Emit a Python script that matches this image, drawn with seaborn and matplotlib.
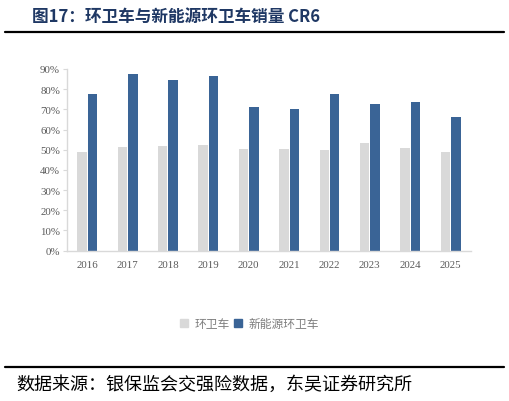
import pandas as pd
import numpy as np
import matplotlib.pyplot as plt
import seaborn as sns
from matplotlib.patches import Rectangle
from matplotlib.lines import Line2D

sns.set_style("white")
plt.rcParams['font.family'] = ['Noto Sans CJK SC', 'DejaVu Sans']

years = ["2016", "2017", "2018", "2019", "2020", "2021", "2022", "2023", "2024", "2025"]
cr6_all = [48.7, 51.2, 51.9, 52.2, 50.5, 50.5, 50.0, 53.3, 51.0, 48.9]
cr6_nev = [77.5, 87.7, 84.5, 86.4, 71.2, 70.0, 77.5, 72.7, 73.5, 66.1]
series = ["环卫车", "新能源环卫车"]
colors = ["#d9d9d9", "#3a6496"]

df = pd.DataFrame({
    "year": years * 2,
    "value": cr6_all + cr6_nev,
    "kind": [series[0]] * len(years) + [series[1]] * len(years),
})

fig = plt.figure(figsize=(5.09, 4.02), dpi=100)
ax = fig.add_axes([0.1316, 0.374, 0.7934, 0.452])

sns.barplot(data=df, x="year", y="value", hue="kind", palette=colors,
            saturation=1, width=0.52, gap=0.1, linewidth=0, ax=ax, legend=False)

ax.set_xlim(-0.5, 9.5)
ax.set_ylim(0, 90)
ax.set_yticks(np.arange(0, 91, 10))
ax.set_yticklabels([f"{v}%" for v in range(0, 91, 10)])
ax.set_xlabel("")
ax.set_ylabel("")
for s in ["top", "right"]:
    ax.spines[s].set_visible(False)
for s in ["left", "bottom"]:
    ax.spines[s].set_color("#d9d9d9")
    ax.spines[s].set_linewidth(1)
ax.tick_params(axis="y", length=3, width=0.8, color="#d9d9d9", pad=2,
               labelsize=7.8, labelcolor="#595959", left=True)
ax.tick_params(axis="x", length=0, pad=7, labelsize=7.8, labelcolor="#595959")
for lab in ax.get_xticklabels() + ax.get_yticklabels():
    lab.set_family("Liberation Serif")

# legend
handles = [Rectangle((0, 0), 1, 1, color=c) for c in colors]
fig.legend(handles, series, loc="center", bbox_to_anchor=(0.49, 0.192),
           ncol=2, frameon=False, fontsize=8.5, handlelength=0.7,
           handleheight=0.7, handletextpad=0.5, columnspacing=0.4,
           labelcolor="#7f7f7f")

# title and frame lines
fig.text(0.063, 0.958, "图17：环卫车与新能源环卫车销量 CR6", fontsize=12,
         fontweight="bold", color="#1f3864", va="center", ha="left")
fig.add_artist(Line2D([0.01, 0.99], [0.918, 0.918], color="black", lw=1.6))
fig.add_artist(Line2D([0.01, 0.99], [0.085, 0.085], color="black", lw=1.6))
fig.text(0.033, 0.042, "数据来源：银保监会交强险数据，东吴证券研究所", fontsize=13,
         color="black", va="center", ha="left")

fig.savefig("out.png", dpi=100)
